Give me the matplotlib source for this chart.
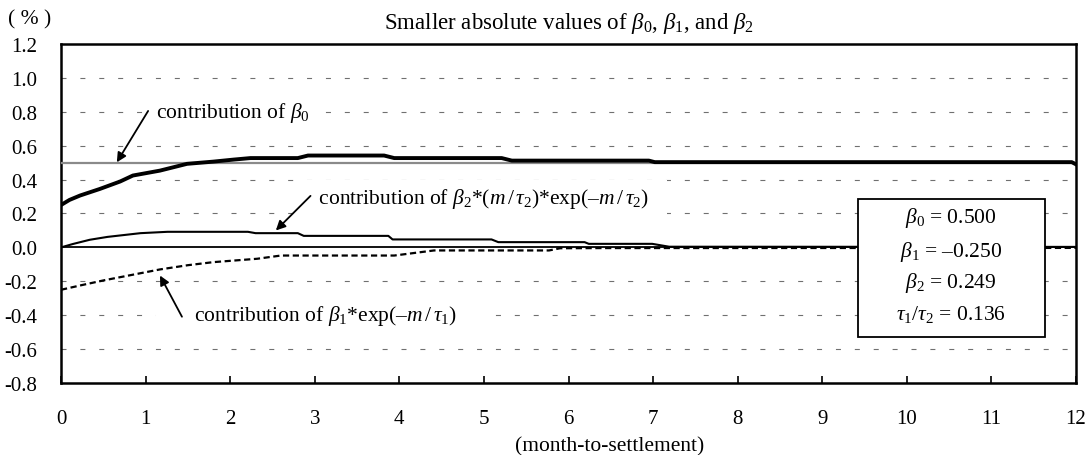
import numpy as np
import matplotlib
matplotlib.use("Agg")
import matplotlib.pyplot as plt
from matplotlib.patches import Rectangle

plt.rcParams['font.family'] = ['Liberation Serif', 'DejaVu Serif']
plt.rcParams['mathtext.fontset'] = 'custom'
plt.rcParams['mathtext.rm'] = 'Liberation Serif'
plt.rcParams['mathtext.it'] = 'Liberation Serif:italic'
plt.rcParams['mathtext.bf'] = 'Liberation Serif:bold'
plt.rcParams['axes.unicode_minus'] = False

# ---------------- data ----------------
x_ticks = list(range(0, 13))
y_ticks = [-0.8, -0.6, -0.4, -0.2, 0.0, 0.2, 0.4, 0.6, 0.8, 1.0, 1.2]

beta0_m = [0.0, 12.0]
beta0_v = [0.5, 0.5]

total_m = [0.0, 0.1, 0.225, 0.46, 0.70, 0.85, 1.17, 1.49, 1.80, 2.04, 2.24, 2.80,
           2.92, 3.82, 3.94, 5.21, 5.33, 6.95, 7.02, 11.95, 12.0]
total_v = [0.25, 0.28, 0.306, 0.345, 0.389, 0.424, 0.453, 0.493, 0.506, 0.518, 0.527, 0.527,
           0.542, 0.542, 0.527, 0.527, 0.512, 0.512, 0.503, 0.503, 0.49]

beta2_m = [0.0, 0.14, 0.34, 0.55, 0.94, 1.26, 2.21, 2.30, 2.80, 2.87, 3.87, 3.92, 5.09,
           5.17, 6.19, 6.24, 6.99, 7.19, 12.0]
beta2_v = [0.0, 0.02, 0.045, 0.062, 0.084, 0.092, 0.092, 0.084, 0.084, 0.068, 0.068, 0.047, 0.047,
           0.031, 0.031, 0.021, 0.021, 0.004, 0.003]

beta1_m = [0.0, 0.25, 0.5, 1.17, 1.5, 1.8, 2.32, 2.6, 3.94, 4.41, 5.77, 5.9, 6.4, 12.0]
beta1_v = [-0.25, -0.222, -0.195, -0.13, -0.105, -0.087, -0.067, -0.048, -0.048, -0.018, -0.018,
           -0.005, -0.004, -0.003]

title = r'Smaller absolute values of $\beta_0$, $\beta_1$, and $\beta_2$'
param_lines = [r'$\beta_0$ = 0.500', r'$\beta_1$ = –0.250', r'$\beta_2$ = 0.249',
               r'$\tau_1$/$\tau_2$ = 0.136']

# ---------------- figure ----------------
W, H = 1088, 456
fig = plt.figure(figsize=(W / 100, H / 100), dpi=100)
L, R, T, B = 61, 1076, 45, 384
ax = fig.add_axes([L / W, 1 - B / H, (R - L) / W, (B - T) / H])
ax.set_xlim(0, 12)
ax.set_ylim(-0.8, 1.2)

FS = 15.5
TFS = 15
ax.set_xticks(x_ticks)
ax.set_xticklabels([str(t) for t in x_ticks], fontsize=TFS)
ax.set_yticks(y_ticks)
ax.set_yticklabels(['%.1f' % t for t in y_ticks], fontsize=TFS)
ax.tick_params(axis='x', direction='in', length=5, width=1.2, pad=19)
ax.tick_params(axis='y', direction='in', length=0, width=1.2, pad=17)
for s in ax.spines.values():
    s.set_linewidth(1.8)
    s.set_color('black')

# grid
for v in y_ticks:
    if v in (-0.8, 0.0, 1.2):
        continue
    ax.axhline(v, color='#707070', lw=0.8, linestyle=(0, (4.5, 12.5)), zorder=1)

ax.axhline(0.0, color='black', lw=1.3, zorder=2)
ax.plot(beta0_m, beta0_v, color='#8a8a8a', lw=1.6, zorder=3, solid_capstyle='butt')
ax.plot(beta2_m, beta2_v, color='black', lw=1.5, zorder=4)
ax.plot(beta1_m, beta1_v, color='black', lw=1.6, linestyle=(0, (2.8, 1.6)), zorder=4)
ax.plot(total_m, total_v, color='black', lw=2.8, zorder=5, solid_joinstyle='round')

# annotations
arrow = dict(arrowstyle='-|>', color='black', lw=1.3, mutation_scale=14,
             shrinkA=0, shrinkB=0)
bb = dict(boxstyle='square,pad=0.3', fc='white', ec='none')
ax.annotate('', xy=(0.66, 0.502), xytext=(1.03, 0.805), arrowprops=arrow, zorder=6)
ax.text(1.06, 0.80, r' contribution of $\beta_0$ ', fontsize=FS, ha='left', va='center',
        bbox=bb, zorder=5.5)
ax.annotate('', xy=(2.54, 0.10), xytext=(2.95, 0.304), arrowprops=arrow, zorder=6)
ax.text(2.92, 0.29, r'  contribution of $\beta_2$*($m\,/\,\tau_2$)*exp(–$m\,/\,\tau_2$)   ',
        fontsize=FS, ha='left', va='center', bbox=bb, zorder=5.5)
ax.annotate('', xy=(1.17, -0.166), xytext=(1.43, -0.409), arrowprops=arrow, zorder=6)
ax.text(1.20, -0.40, r'      contribution of $\beta_1$*exp(–$m\,/\,\tau_1$)      ',
        fontsize=FS, ha='left', va='center', bbox=bb, zorder=5.5)

# parameter box
ax.add_patch(Rectangle((0.785, 0.1365), 0.184, 0.4065, transform=ax.transAxes,
                       fc='white', ec='black', lw=1.3, zorder=8))
for yy, s in zip([0.490, 0.390, 0.299, 0.205], param_lines):
    ax.text(0.877, yy, s, transform=ax.transAxes, fontsize=FS, ha='center', va='center',
            zorder=9)

fig.text(569 / W, 1 - 23 / H, title, fontsize=16.5, ha='center', va='center')
fig.text(30 / W, 1 - 20 / H, '( % )', fontsize=FS, ha='center', va='center')
fig.text(610 / W, 1 - 447 / H, '(month-to-settlement)', fontsize=FS, ha='center', va='center')

fig.savefig('out.png', dpi=100)
